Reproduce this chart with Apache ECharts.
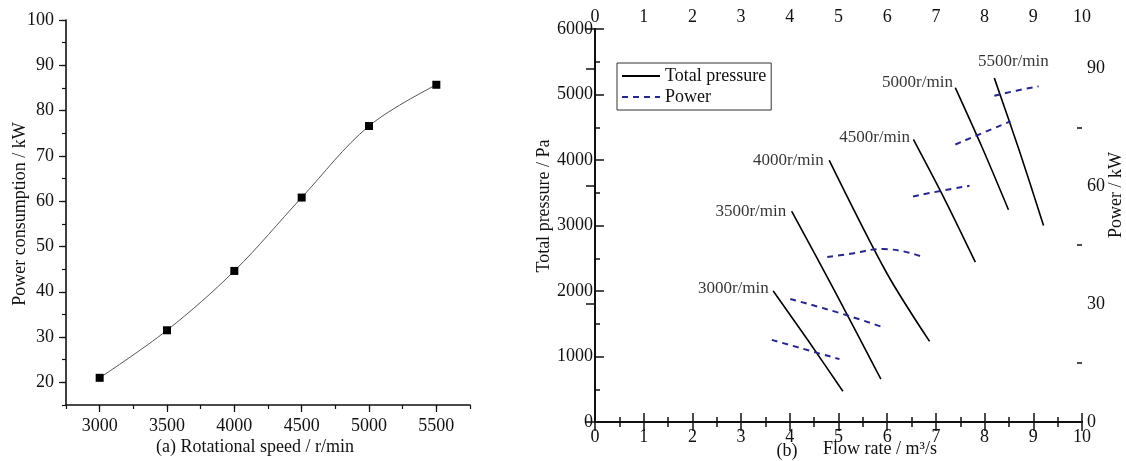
<!DOCTYPE html>
<html>
<head>
<meta charset="utf-8">
<script src="https://cdn.jsdelivr.net/npm/echarts@6/dist/echarts.min.js"></script>
<style>
  html, body { margin: 0; padding: 0; background: #fff; }
  #chart { width: 1126px; height: 461px; }
</style>
</head>
<body>
<div id="chart"></div>
<script>
// (a) power consumption vs rotational speed
const speeds = [3000, 3500, 4000, 4500, 5000, 5500];
const powerConsumption = [21.0, 31.5, 44.6, 60.8, 76.6, 85.7];
const speedTicks = [3000, 3500, 4000, 4500, 5000, 5500];
const consumptionTicks = [20, 30, 40, 50, 60, 70, 80, 90, 100];

// (b) characteristic curves per speed: [flow rate m3/s, total pressure Pa]
const speedLabels = ['3000r/min', '3500r/min', '4000r/min', '4500r/min', '5000r/min', '5500r/min'];
const pressure3000 = [[3.66, 2000], [4.38, 1240], [5.09, 470]];
const pressure3500 = [[4.04, 3215], [4.95, 1960], [5.87, 655]];
const pressure4000 = [[4.81, 3995], [5.99, 2275], [6.87, 1230]];
const pressure4500 = [[6.54, 4310], [7.18, 3400], [7.81, 2440]];
const pressure5000 = [[7.40, 5100], [7.95, 4190], [8.49, 3240]];
const pressure5500 = [[8.20, 5250], [8.71, 4150], [9.21, 3000]];
// [flow rate m3/s, power kW]
const power3000 = [[3.63, 20.9], [4.45, 18.0], [5.02, 16.0]];
const power3500 = [[4.01, 31.3], [5.03, 27.7], [5.87, 24.3]];
const power4000 = [[4.77, 42.0], [5.24, 42.8], [5.92, 44.0], [6.73, 42.0]];
const power4500 = [[6.53, 57.4], [7.10, 58.8], [7.69, 60.1]];
const power5000 = [[7.40, 70.6], [7.97, 73.6], [8.53, 76.5]];
const power5500 = [[8.20, 83.0], [8.65, 84.3], [9.11, 85.4]];
const powerMinorTicks = [15, 45, 75];

const pressureCurves = [pressure3000, pressure3500, pressure4000, pressure4500, pressure5000, pressure5500];
const powerCurves = [power3000, power3500, power4000, power4500, power5000, power5500];

const FONT = 'Liberation Serif';
const INK = '#111';
const plain = (v) => String(v);

// speed label placement next to the start of each pressure curve
const labelPlacement = [
  { position: 'left', distance: 4, offset: [0, -2] },
  { position: 'left', distance: 5, offset: [0, 0] },
  { position: 'left', distance: 5, offset: [0, 0] },
  { position: 'left', distance: 3, offset: [0, -2] },
  { position: 'left', distance: 2, offset: [0, -5] },
  { position: 'top', distance: 8, offset: [19, 0] }
];

const series = [{
  type: 'line',
  xAxisIndex: 0,
  yAxisIndex: 0,
  data: speeds.map((s, i) => [s, powerConsumption[i]]),
  smooth: 0.35,
  symbol: 'rect',
  symbolSize: 8,
  itemStyle: { color: '#000' },
  lineStyle: { color: '#555', width: 1 },
  z: 3
}];

pressureCurves.forEach((curve) => {
  series.push({
    name: 'Total pressure',
    type: 'line',
    xAxisIndex: 2,
    yAxisIndex: 2,
    symbol: 'none',
    smooth: 0.3,
    itemStyle: { color: '#000' },
    lineStyle: { color: '#000', width: 1.6 },
    data: curve
  });
});

powerCurves.forEach((curve) => {
  series.push({
    name: 'Power',
    type: 'line',
    xAxisIndex: 2,
    yAxisIndex: 3,
    symbol: 'none',
    smooth: true,
    itemStyle: { color: '#26268c' },
    lineStyle: { color: '#26268c', width: 2, type: [6, 5] },
    data: curve
  });
});

// speed names written at the upper end of each pressure curve
series.push({
  name: 'speed',
  type: 'scatter',
  xAxisIndex: 2,
  yAxisIndex: 2,
  symbol: 'circle',
  symbolSize: 1,
  silent: true,
  itemStyle: { color: '#000' },
  data: pressureCurves.map((curve, i) => ({
    value: curve[0],
    label: Object.assign({
      show: true,
      formatter: speedLabels[i],
      fontFamily: FONT,
      fontSize: 17,
      color: '#000'
    }, labelPlacement[i])
  }))
});

const sideTick = (len, inside, w) => ({ inside: inside, length: len, lineStyle: { color: INK, width: w } });

const option = {
  animation: false,
  backgroundColor: '#fff',
  textStyle: { fontFamily: FONT, color: INK },
  grid: [
    { left: 66, top: 20, width: 404, height: 385 },
    { left: 595, top: 29, width: 487, height: 393 }
  ],
  legend: {
    left: 617, top: 63,
    orient: 'vertical',
    itemWidth: 38, itemHeight: 14, itemGap: 3,
    padding: [4, 5, 4, 4],
    borderColor: '#333', borderWidth: 1,
    itemStyle: { opacity: 0 },
    textStyle: { fontFamily: FONT, fontSize: 18, color: INK },
    data: ['Total pressure', 'Power']
  },
  xAxis: [
    { gridIndex: 0, type: 'value', min: 2750, max: 5750, interval: 250,
      axisLine: { lineStyle: { color: INK, width: 1.6 } },
      axisTick: sideTick(4, false, 1.2),
      axisLabel: { margin: 12, fontSize: 18, color: INK, fontFamily: FONT,
        formatter: (v) => (v % 500 === 0 ? String(v) : '') },
      splitLine: { show: false } },
    { gridIndex: 0, type: 'value', min: 2750, max: 5750, position: 'bottom',
      axisLine: { show: false },
      axisTick: Object.assign(sideTick(7, false, 1.2), { customValues: speedTicks }),
      axisLabel: { show: false },
      splitLine: { show: false } },
    { gridIndex: 1, type: 'value', min: 0, max: 10, interval: 1, position: 'bottom',
      axisLine: { lineStyle: { color: INK, width: 2 } },
      axisTick: sideTick(9, true, 1.5),
      minorTick: { show: true, splitNumber: 2, length: 5, lineStyle: { color: INK, width: 1.5 } },
      axisLabel: { margin: 6, fontSize: 18, color: INK, fontFamily: FONT, formatter: plain },
      splitLine: { show: false } },
    { gridIndex: 1, type: 'value', min: 0, max: 10, interval: 1, position: 'top',
      axisLine: { lineStyle: { color: INK, width: 2 } },
      axisTick: sideTick(9, true, 1.5),
      minorTick: { show: true, splitNumber: 2, length: 5, lineStyle: { color: INK, width: 1.5 } },
      axisLabel: { margin: 3, fontSize: 18, color: INK, fontFamily: FONT, formatter: plain },
      splitLine: { show: false } }
  ],
  yAxis: [
    { gridIndex: 0, type: 'value', min: 15, max: 100, interval: 5,
      axisLine: { lineStyle: { color: INK, width: 1.6 } },
      axisTick: sideTick(4, false, 1.2),
      axisLabel: { margin: 12, fontSize: 18, color: INK, fontFamily: FONT,
        formatter: (v) => (v % 10 === 0 ? String(v) : '') },
      splitLine: { show: false } },
    { gridIndex: 0, type: 'value', min: 15, max: 100, position: 'left',
      axisLine: { show: false },
      axisTick: Object.assign(sideTick(7, false, 1.2), { customValues: consumptionTicks }),
      axisLabel: { show: false },
      splitLine: { show: false } },
    { gridIndex: 1, type: 'value', min: 0, max: 6000, interval: 1000, position: 'left',
      axisLine: { lineStyle: { color: INK, width: 2 } },
      axisTick: sideTick(9, true, 1.5),
      minorTick: { show: true, splitNumber: 2, length: 5, lineStyle: { color: INK, width: 1.5 } },
      axisLabel: { margin: 2, fontSize: 18, color: INK, fontFamily: FONT, formatter: plain },
      splitLine: { show: false } },
    { gridIndex: 1, type: 'value', min: 0, max: 100, interval: 30, position: 'right',
      axisLine: { lineStyle: { color: INK, width: 2 } },
      axisTick: sideTick(9, true, 1.5),
      axisLabel: { margin: 5, fontSize: 18, color: INK, fontFamily: FONT,
        formatter: (v) => (v % 30 === 0 ? String(v) : '') },
      splitLine: { show: false } },
    { gridIndex: 1, type: 'value', min: 0, max: 100, position: 'right',
      axisLine: { show: false },
      axisTick: Object.assign(sideTick(5, true, 1.5), { customValues: powerMinorTicks }),
      axisLabel: { show: false },
      splitLine: { show: false } }
  ],
  graphic: [
    { type: 'text', x: 20, y: 214, rotation: Math.PI / 2,
      style: { text: 'Power consumption / kW', font: '18px "Liberation Serif"', fill: INK, align: 'center', verticalAlign: 'middle' } },
    { type: 'text', x: 255, y: 447,
      style: { text: '(a) Rotational speed / r/min', font: '18px "Liberation Serif"', fill: INK, align: 'center', verticalAlign: 'middle' } },
    { type: 'text', x: 544, y: 206, rotation: Math.PI / 2,
      style: { text: 'Total pressure / Pa', font: '18px "Liberation Serif"', fill: INK, align: 'center', verticalAlign: 'middle' } },
    { type: 'text', x: 1116, y: 195, rotation: Math.PI / 2,
      style: { text: 'Power / kW', font: '18px "Liberation Serif"', fill: INK, align: 'center', verticalAlign: 'middle' } },
    { type: 'text', x: 787, y: 451,
      style: { text: '(b)', font: '18px "Liberation Serif"', fill: INK, align: 'center', verticalAlign: 'middle' } },
    { type: 'text', x: 823, y: 449,
      style: { text: 'Flow rate / m³/s', font: '18px "Liberation Serif"', fill: INK, align: 'left', verticalAlign: 'middle' } }
  ],
  series: series
};

const chart = echarts.init(document.getElementById('chart'), null, { renderer: 'canvas' });
chart.setOption(option);
</script>
</body>
</html>
